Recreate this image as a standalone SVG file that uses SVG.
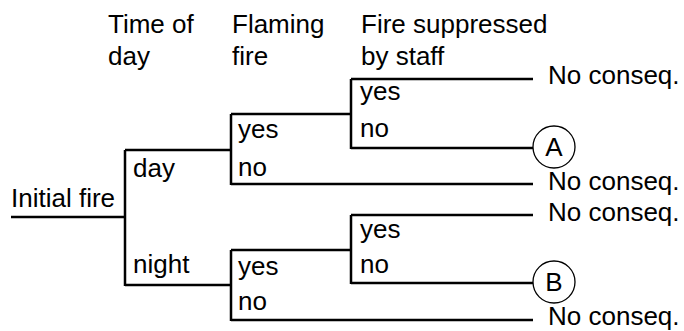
<svg xmlns="http://www.w3.org/2000/svg" width="684" height="331" viewBox="0 0 684 331">
<style>
text{font-family:"Liberation Sans",Arial,sans-serif;font-size:26px;fill:#000}
.ln{fill:none;stroke:#000;stroke-width:2.5}
.c{fill:#fff;stroke:#000;stroke-width:1.3}
.m{text-anchor:middle}
</style>
<rect width="684" height="331" fill="#fff"/>
<g id="headers">
<text x="108" y="33">Time of</text>
<text x="108" y="65">day</text>
<text x="232" y="33">Flaming</text>
<text x="232" y="65">fire</text>
<text x="361" y="33">Fire suppressed</text>
<text x="361" y="65">by staff</text>
</g>
<g id="connectors">
<path class="ln" d="M11,217H125M125,150V286M125,150H232M125,285H232"/>
<path class="ln" d="M231,114V185M231,114H352M231,184H533"/>
<path class="ln" d="M351,79V149M351,79H533M351,148H533"/>
<path class="ln" d="M231,250V321M231,250H352M231,320H533"/>
<path class="ln" d="M351,215V284M351,215H533M351,283H533"/>
</g>
<g id="initial"><text x="11" y="207">Initial fire</text></g>
<g id="day"><text x="133" y="177">day</text></g>
<g id="night"><text x="133" y="273">night</text></g>
<g id="flam-day-yes"><text x="238" y="138">yes</text></g>
<g id="flam-day-no"><text x="238" y="176">no</text></g>
<g id="flam-night-yes"><text x="238" y="275">yes</text></g>
<g id="flam-night-no"><text x="238" y="310">no</text></g>
<g id="staff-day-yes"><text x="360" y="100">yes</text></g>
<g id="staff-day-no"><text x="360" y="137">no</text></g>
<g id="staff-night-yes"><text x="360" y="238">yes</text></g>
<g id="staff-night-no"><text x="360" y="273">no</text></g>
<g id="end1"><text x="548" y="84">No conseq.</text></g>
<g id="end2"><text x="548" y="190">No conseq.</text></g>
<g id="end3"><text x="548" y="221">No conseq.</text></g>
<g id="end4"><text x="548" y="325">No conseq.</text></g>
<g id="A"><circle class="c" cx="554" cy="147" r="21"/><text class="m" x="554" y="156">A</text></g>
<g id="B"><circle class="c" cx="554" cy="282" r="21"/><text class="m" x="554" y="291">B</text></g>
</svg>
